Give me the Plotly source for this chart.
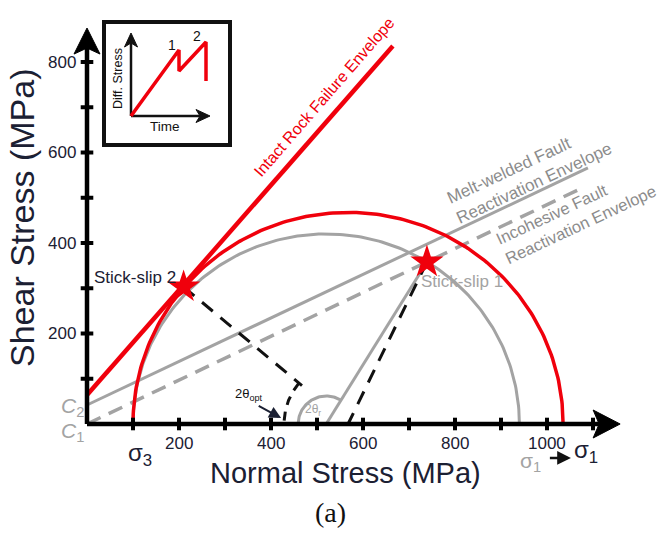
import numpy as np
import plotly.graph_objects as go

W, H = 658, 534
# where the stress origin sits on the page and the page scale (px per MPa)
X0_PX, Y0_PX = 87, 424
SX, SY = 0.46, 0.4525

RED = "#f0000c"
GRAY = "#a3a3a3"
INK = "#1b2033"
FONT = "Liberation Sans, Arial, sans-serif"

# Mohr circles: before (grey) and after (red) the increase of sigma1
sigma3 = [100, 100]
sigma1 = [940, 1035]

# failure / reactivation envelopes: cohesion (MPa), friction slope, end of drawn segment (MPa)
intact_c, intact_mu, intact_end = 64, 1.16, 665
melt_c, melt_mu, melt_end = 42, 0.481, 1089
incoh_c, incoh_mu, incoh_end = 0, 0.4846, 1078

# stick-slip events (normal stress, shear stress)
slip_sigma = [739, 210]
slip_tau = [358, 303]
slip_labels = ["Stick-slip 1", "Stick-slip 2"]

x_tick_vals = [200, 400, 600, 800, 1000]
y_tick_vals = [200, 400, 600, 800]
x_minor = list(range(100, 1200, 100))
y_minor = list(range(100, 900, 100))
x_axis_tip, y_axis_tip = 1159, 875

# inset: differential stress against time
inset_time = [0, 4.8, 4.8, 7.5, 7.5]
inset_stress = [0, 6.6, 4.5, 7.4, 3.5]


def dx(px):
    return px / SX


def dy(px):
    return px / SY


def circle(s3, s1, n=200):
    c, r = (s1 + s3) / 2, (s1 - s3) / 2
    t = np.linspace(0, np.pi, n)
    return c + r * np.cos(t), r * np.sin(t)


def arc(cx, r_px, a0, a1, n=60):
    t = np.linspace(a0, a1, n)
    return cx + dx(r_px) * np.cos(t), dy(r_px) * np.sin(t)


def px_angle(cx, s, tau):
    return np.arctan2(tau * SY, (s - cx) * SX)


fig = go.Figure()


def line(x, y, color, width, dash="solid", xaxis="x", yaxis="y"):
    fig.add_trace(go.Scatter(x=list(x), y=list(y), mode="lines",
                             line=dict(color=color, width=width, dash=dash),
                             hoverinfo="skip", xaxis=xaxis, yaxis=yaxis))


# grey circle and its reactivation envelopes
cx_g, cy_g = circle(sigma3[0], sigma1[0])
line(cx_g, cy_g, GRAY, 3)
line([0, melt_end], [melt_c, melt_c + melt_mu * melt_end], GRAY, 3)
line([0, incoh_end], [incoh_c, incoh_c + incoh_mu * incoh_end], GRAY, 3.5, "15px,9px")

c_gray = (sigma1[0] + sigma3[0]) / 2
c_red = (sigma1[1] + sigma3[1]) / 2

# grey radius to stick-slip 1 and its angle arc
line([c_gray, slip_sigma[0]], [0, slip_tau[0]], GRAY, 3)
ag = px_angle(c_gray, slip_sigma[0], slip_tau[0])
ax_, ay_ = arc(c_gray, 28, ag, np.pi)
line(ax_, ay_, GRAY, 3)

# red circle and intact envelope
cx_r, cy_r = circle(sigma3[1], sigma1[1])
line(cx_r, cy_r, RED, 3.5)
line([0, intact_end], [intact_c, intact_c + intact_mu * intact_end], RED, 4.5)

# black dashed radii to the red circle centre
line([slip_sigma[0], c_red], [slip_tau[0], 0], "#111111", 3, "14px,10px")
a2 = px_angle(c_red, slip_sigma[1], slip_tau[1])
r_end = 60
line([slip_sigma[1], c_red + dx(r_end) * np.cos(a2)],
     [slip_tau[1], dy(r_end) * np.sin(a2)], "#111111", 3, "14px,10px")
bx, by = arc(c_red, 64, a2, np.pi * 0.985)
line(bx, by, "#111111", 3, "9px,7px")

# axes
line([0, x_axis_tip - dx(20)], [0, 0], "black", 4.5)
line([0, 0], [0, y_axis_tip - dy(20)], "black", 4.5)
fig.add_trace(go.Scatter(
    x=[x_axis_tip, x_axis_tip - dx(27), x_axis_tip - dx(21), x_axis_tip - dx(27), x_axis_tip],
    y=[0, dy(14), 0, -dy(14), 0], mode="lines", fill="toself",
    fillcolor="black", line=dict(color="black", width=1), hoverinfo="skip"))
fig.add_trace(go.Scatter(
    x=[0, dx(13), 0, -dx(13), 0],
    y=[y_axis_tip, y_axis_tip - dy(26), y_axis_tip - dy(20), y_axis_tip - dy(26), y_axis_tip],
    mode="lines", fill="toself", fillcolor="black",
    line=dict(color="black", width=1), hoverinfo="skip"))
fig.add_trace(go.Scatter(x=x_minor, y=[0] * len(x_minor), mode="markers",
                         marker=dict(symbol="line-ns", size=9, line=dict(width=4, color="black")),
                         hoverinfo="skip"))
fig.add_trace(go.Scatter(x=[0] * len(y_minor), y=y_minor, mode="markers",
                         marker=dict(symbol="line-ew", size=9, line=dict(width=4, color="black")),
                         hoverinfo="skip"))

# stick-slip stars
fig.add_trace(go.Scatter(x=slip_sigma, y=slip_tau, mode="markers",
                         marker=dict(symbol="star", size=25, color=RED, line=dict(width=0)),
                         hoverinfo="skip"))

# inset axes arrows and stress history
line([0, 0], [0, 7.4], "#111111", 2.5, xaxis="x2", yaxis="y2")
line([0, 7.2], [0, 0], "#111111", 2.5, xaxis="x2", yaxis="y2")
fig.add_trace(go.Scatter(x=[0, 0.65, 0, -0.65, 0], y=[8.3, 6.9, 7.3, 6.9, 8.3],
                         mode="lines", fill="toself", fillcolor="#111111",
                         line=dict(color="#111111", width=1), xaxis="x2", yaxis="y2",
                         hoverinfo="skip"))
fig.add_trace(go.Scatter(x=[7.9, 6.5, 6.9, 6.5, 7.9], y=[0, 0.65, 0, -0.65, 0],
                         mode="lines", fill="toself", fillcolor="#111111",
                         line=dict(color="#111111", width=1), xaxis="x2", yaxis="y2",
                         hoverinfo="skip"))
line(inset_time, inset_stress, RED, 3.5, xaxis="x2", yaxis="y2")

ann = []


def text(x, y, s, size=17, color=INK, angle=0, xanchor="center", yanchor="middle",
         family=FONT, align="center", xref="x", yref="y"):
    ann.append(dict(x=x, y=y, text=s, showarrow=False, xref=xref, yref=yref,
                    font=dict(size=size, color=color, family=family),
                    textangle=angle, xanchor=xanchor, yanchor=yanchor, align=align))


for v in x_tick_vals:
    text(v, dy(-19), str(v))
for v in y_tick_vals:
    text(dx(-9), v, str(v), xanchor="right")

text(dx(-65), dy(206), "Shear Stress (MPa)", size=34, angle=-90)
text(dx(258), dy(-49), "Normal Stress (MPa)", size=29)
text(dx(243), dy(-88), "(a)", size=28, family="Liberation Serif, Times New Roman, serif",
     color="#111111")
text(sigma3[1] + dx(7), dy(-30), "σ<sub>3</sub>", size=24)
text(sigma1[0] + dx(11), dy(-38), "σ<sub>1</sub>", size=21, color=GRAY)
text(sigma1[1] + dx(23), dy(-27), "σ<sub>1</sub>", size=24)
ann.append(dict(x=1052, y=-75, ax=1003, ay=-75, axref="x", ayref="y", xref="x", yref="y",
                text="", showarrow=True, arrowhead=2, arrowsize=1.1, arrowwidth=2.5,
                arrowcolor="#111111"))
text(dx(-15), dy(17), "<i>C</i><sub>2</sub>", size=21, color=GRAY)
text(dx(-15), dy(-8), "<i>C</i><sub>1</sub>", size=21, color=GRAY)

text(104, 323, slip_labels[1], size=17)
text(815, 314, slip_labels[0], size=17, color=GRAY)

text(517, 723, "Intact Rock Failure Envelope", size=16, color=RED, angle=-49)
text(961, 553, "Melt-welded Fault<br>Reactivation Envelope", size=17, color="#8c8c8c",
     angle=-25, align="left")
text(1063, 462, "Incohesive Fault<br>Reactivation Envelope", size=16.5, color="#8c8c8c",
     angle=-25, align="left")

text(352, 66, "2θ<sub>opt</sub>", size=13, color="#111111")
ann.append(dict(x=422, y=13, ax=370, ay=42, axref="x", ayref="y", xref="x", yref="y",
                text="", showarrow=True, arrowhead=2, arrowsize=1.2, arrowwidth=2,
                arrowcolor="#1b2033"))
text(491, 31, "2θ<sub>r</sub>", size=12, color=GRAY)

# inset labels
text(4.1, 7.1, "1", size=14, color="#111111", xref="x2", yref="y2")
text(6.6, 8.0, "2", size=14, color="#111111", xref="x2", yref="y2")
text(-1.3, 3.7, "Diff. Stress", size=12.5, color="#111111", angle=-90, xref="x2", yref="y2")
text(3.4, -1.0, "Time", size=13.5, color="#111111", xref="x2", yref="y2")

fig.update_layout(
    width=W, height=H, margin=dict(l=0, r=0, t=0, b=0),
    paper_bgcolor="white", plot_bgcolor="white", showlegend=False,
    annotations=ann,
    xaxis=dict(range=[-X0_PX / SX, (W - X0_PX) / SX], visible=False, domain=[0, 1]),
    yaxis=dict(range=[-(H - Y0_PX) / SY, Y0_PX / SY], visible=False, domain=[0, 1]),
    xaxis2=dict(domain=[106 / W, 228 / W], anchor="y2", range=[-2.5, 9.7],
                showline=True, mirror=True, linecolor="#111111", linewidth=3.5,
                showgrid=False, zeroline=False, showticklabels=False, ticks=""),
    yaxis2=dict(domain=[(H - 143) / H, (H - 24) / H], anchor="x2", range=[-2.7, 9.2],
                showline=True, mirror=True, linecolor="#111111", linewidth=3.5,
                showgrid=False, zeroline=False, showticklabels=False, ticks=""),
)

fig.write_html("out.html")
